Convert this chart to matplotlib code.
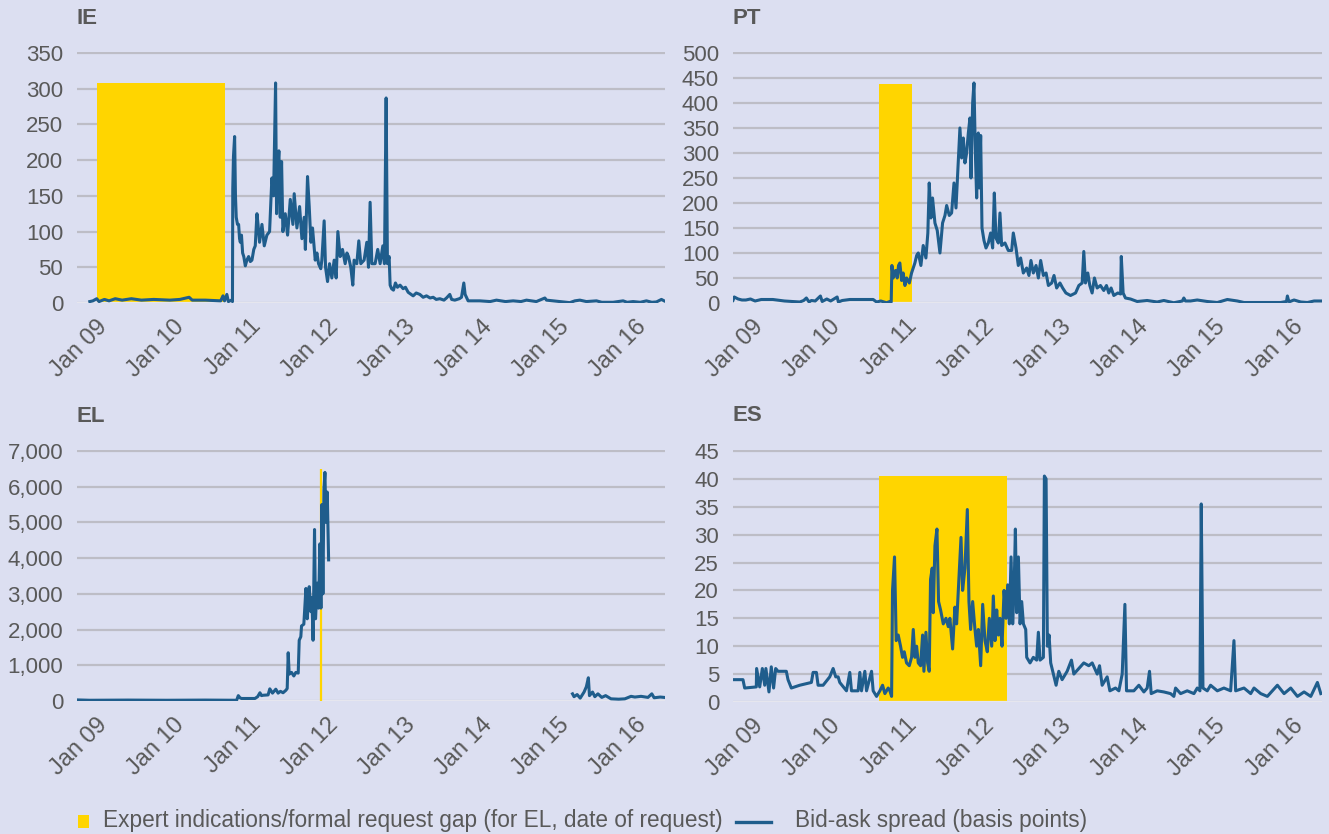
import matplotlib
matplotlib.use("Agg")
import matplotlib.pyplot as plt
import matplotlib.transforms as mtransforms
import numpy as np
from matplotlib.lines import Line2D
from matplotlib.patches import Rectangle

# ---- data (x in decimal years, values in basis points) ----
ie_x = [2009.0, 2009.04, 2009.09, 2009.12, 2009.19, 2009.25, 2009.33, 2009.42, 2009.54, 2009.67,
        2009.83, 2010.04, 2010.17, 2010.29, 2010.33, 2010.5, 2010.7, 2010.73, 2010.75, 2010.78,
        2010.8, 2010.84, 2010.853, 2010.857, 2010.866, 2010.881, 2010.892, 2010.902, 2010.918, 2010.933,
        2010.945, 2010.955, 2010.97, 2010.985, 2011.0, 2011.02, 2011.04, 2011.063, 2011.085, 2011.106,
        2011.13, 2011.149, 2011.171, 2011.185, 2011.205, 2011.236, 2011.266, 2011.3, 2011.335, 2011.365,
        2011.387, 2011.4, 2011.413, 2011.426, 2011.443, 2011.456, 2011.474, 2011.491, 2011.508, 2011.539,
        2011.569, 2011.604, 2011.638, 2011.655, 2011.69, 2011.725, 2011.755, 2011.785, 2011.8, 2011.828,
        2011.85, 2011.872, 2011.893, 2011.928, 2011.95, 2011.971, 2012.0, 2012.014, 2012.044, 2012.062,
        2012.088, 2012.114, 2012.144, 2012.174, 2012.2, 2012.222, 2012.252, 2012.282, 2012.317, 2012.34,
        2012.36, 2012.39, 2012.416, 2012.433, 2012.468, 2012.494, 2012.52, 2012.563, 2012.598, 2012.62,
        2012.641, 2012.663, 2012.706, 2012.74, 2012.771, 2012.806, 2012.827, 2012.849, 2012.866, 2012.888,
        2012.901, 2012.92, 2012.944, 2012.97, 2012.996, 2013.03, 2013.07, 2013.1, 2013.135, 2013.2,
        2013.24, 2013.287, 2013.33, 2013.373, 2013.42, 2013.46, 2013.5, 2013.547, 2013.6, 2013.633,
        2013.676, 2013.7, 2013.741, 2013.8, 2013.828, 2013.858, 2013.875, 2013.914, 2014.066, 2014.2,
        2014.282, 2014.4, 2014.499, 2014.6, 2014.672, 2014.8, 2014.911, 2014.932, 2015.235, 2015.3,
        2015.365, 2015.45, 2015.581, 2015.65, 2015.797, 2015.927, 2015.98, 2016.057, 2016.15, 2016.23,
        2016.3, 2016.36, 2016.425, 2016.46]
ie_y = [2, 3, 6, 2, 5, 3, 6, 4, 6, 4,
        5, 4, 5, 8, 4, 4, 3, 10, 3, 12,
        2, 4, 2, 160, 205, 233, 150, 120, 110, 110,
        90, 85, 95, 70, 65, 52, 60, 65, 58, 60,
        75, 80, 125, 110, 85, 110, 80, 95, 100, 175,
        150, 230, 308, 125, 190, 213, 120, 198, 100, 125,
        95, 145, 110, 153, 105, 135, 90, 120, 75, 177,
        135, 85, 105, 60, 70, 55, 48, 60, 115, 50,
        30, 55, 35, 60, 35, 100, 65, 75, 55, 70,
        65, 50, 25, 60, 55, 87, 55, 60, 85, 50,
        141, 55, 55, 75, 55, 80, 55, 287, 55, 65,
        25, 20, 18, 28, 22, 25, 20, 22, 15, 10,
        14, 12, 8, 10, 7, 8, 5, 6, 4, 7,
        12, 5, 4, 6, 8, 28, 12, 3, 3, 2,
        4, 2, 3, 2, 4, 2, 7, 4, 0.5, 3,
        4, 2, 3, 1, 1, 3, 1, 2, 1, 3,
        1, 1.5, 5, 3]

pt_x = [2008.833, 2008.85, 2008.9, 2008.95, 2009.0, 2009.06, 2009.12, 2009.2, 2009.35, 2009.5,
        2009.6, 2009.7, 2009.75, 2009.785, 2009.82, 2009.85, 2009.9, 2009.967, 2009.99, 2010.05,
        2010.1, 2010.184, 2010.2, 2010.25, 2010.348, 2010.651, 2010.695, 2010.75, 2010.824, 2010.868,
        2010.885, 2010.894, 2010.911, 2010.925, 2010.941, 2010.963, 2010.98, 2010.997, 2011.02, 2011.04,
        2011.063, 2011.085, 2011.12, 2011.149, 2011.17, 2011.192, 2011.215, 2011.236, 2011.27, 2011.3,
        2011.335, 2011.36, 2011.378, 2011.4, 2011.421, 2011.452, 2011.482, 2011.517, 2011.551, 2011.582,
        2011.604, 2011.638, 2011.668, 2011.699, 2011.725, 2011.755, 2011.776, 2011.798, 2011.82, 2011.841,
        2011.863, 2011.885, 2011.906, 2011.919, 2011.941, 2011.958, 2011.976, 2011.993, 2012.014, 2012.027,
        2012.045, 2012.062, 2012.088, 2012.114, 2012.144, 2012.174, 2012.2, 2012.222, 2012.243, 2012.274,
        2012.295, 2012.317, 2012.36, 2012.403, 2012.447, 2012.468, 2012.503, 2012.533, 2012.563, 2012.598,
        2012.641, 2012.671, 2012.697, 2012.728, 2012.763, 2012.793, 2012.823, 2012.858, 2012.893, 2012.923,
        2012.966, 2012.996, 2013.03, 2013.073, 2013.108, 2013.15, 2013.21, 2013.275, 2013.318, 2013.361,
        2013.382, 2013.404, 2013.434, 2013.46, 2013.49, 2013.52, 2013.555, 2013.598, 2013.641, 2013.676,
        2013.706, 2013.736, 2013.771, 2013.823, 2013.86, 2013.868, 2013.892, 2013.922, 2013.987, 2014.074,
        2014.203, 2014.333, 2014.42, 2014.549, 2014.66, 2014.679, 2014.7, 2014.766, 2014.853, 2014.983,
        2015.113, 2015.243, 2015.373, 2015.459, 2015.719, 2015.935, 2016.01, 2016.022, 2016.04, 2016.057,
        2016.108, 2016.195, 2016.281, 2016.368, 2016.454]
pt_y = [5, 12, 8, 6, 6, 8, 4, 7, 7, 4,
        3, 2, 5, 10, 2, 5, 4, 14, 3, 8,
        4, 12, 2, 5, 7, 7, 2, 4, 0.5, 3,
        2, 75, 50, 60, 65, 50, 75, 80, 45, 60,
        35, 50, 40, 60, 70, 80, 95, 100, 75, 115,
        90, 140, 240, 170, 210, 160, 145, 100, 160, 175,
        195, 175, 180, 240, 190, 285, 350, 290, 330, 280,
        300, 340, 370, 250, 400, 440, 300, 210, 340, 230,
        335, 150, 125, 110, 120, 140, 110, 220, 130, 120,
        180, 115, 120, 105, 105, 140, 110, 75, 90, 60,
        70, 55, 85, 60, 75, 50, 85, 55, 60, 35,
        40, 55, 30, 40, 30, 20, 15, 20, 35, 40,
        103, 40, 60, 35, 20, 50, 30, 35, 25, 35,
        20, 30, 15, 20, 18, 93, 20, 10, 8, 3,
        5, 2, 5, 0.5, 4, 10, 4, 4, 6, 3,
        1, 7, 4, 1, 1, 1, 3, 14, 3, 3,
        6, 2, 1, 4, 4]

el_x = [2008.833, 2009.0, 2009.5, 2010.0, 2010.5, 2010.907, 2010.929, 2010.95, 2010.97, 2011.145,
        2011.18, 2011.21, 2011.23, 2011.25, 2011.316, 2011.338, 2011.373, 2011.416, 2011.446, 2011.477,
        2011.51, 2011.547, 2011.564, 2011.577, 2011.59, 2011.62, 2011.65, 2011.676, 2011.707, 2011.72,
        2011.741, 2011.75, 2011.78, 2011.795, 2011.807, 2011.824, 2011.84, 2011.85, 2011.872, 2011.885,
        2011.9, 2011.919, 2011.932, 2011.954, 2011.971, 2011.989, 2012.002, 2012.015, 2012.028, 2012.041,
        2012.054, 2012.067, 2012.084, 2012.102, 2013.0,
        2015.27, 2015.29, 2015.33, 2015.37, 2015.42, 2015.45, 2015.476, 2015.49, 2015.53, 2015.56,
        2015.6, 2015.65, 2015.7, 2015.77, 2015.87, 2015.95, 2016.03, 2016.08, 2016.16, 2016.25,
        2016.3, 2016.33, 2016.41, 2016.46]
el_y = [30, 20, 25, 20, 25, 20, 150, 90, 70, 70,
        120, 230, 150, 160, 170, 340, 220, 330, 220, 270,
        230, 300, 350, 1350, 750, 800, 700, 800, 780, 1700,
        1800, 2100, 2150, 2700, 3150, 2300, 2800, 3200, 2500, 2900,
        1700, 4800, 2300, 3300, 2600, 4400, 2600, 5500, 3000, 5900,
        6400, 5000, 5850, 3950, np.nan,
        200, 120, 180, 80, 250, 400, 650, 150, 250, 120,
        200, 100, 150, 60, 50, 60, 130, 110, 130, 100,
        200, 90, 110, 100]

es_x = [2008.833, 2008.963, 2008.985, 2009.136, 2009.14, 2009.18, 2009.214, 2009.245, 2009.26, 2009.3,
        2009.33, 2009.36, 2009.387, 2009.417, 2009.525, 2009.547, 2009.59, 2009.699, 2009.85, 2009.872,
        2009.915, 2009.937, 2010.002, 2010.088, 2010.132, 2010.166, 2010.197, 2010.218, 2010.305, 2010.348,
        2010.37, 2010.456, 2010.478, 2010.5, 2010.543, 2010.565, 2010.63, 2010.651, 2010.695, 2010.738,
        2010.773, 2010.803, 2010.846, 2010.868, 2010.89, 2010.902, 2010.928, 2010.95, 2010.976, 2011.006,
        2011.032, 2011.054, 2011.084, 2011.119, 2011.149, 2011.171, 2011.193, 2011.214, 2011.236, 2011.266,
        2011.292, 2011.309, 2011.335, 2011.357, 2011.378, 2011.395, 2011.417, 2011.43, 2011.452, 2011.478,
        2011.499, 2011.525, 2011.56, 2011.595, 2011.625, 2011.646, 2011.681, 2011.711, 2011.733, 2011.755,
        2011.79, 2011.811, 2011.841, 2011.872, 2011.893, 2011.915, 2011.941, 2011.971, 2011.993, 2012.015,
        2012.045, 2012.071, 2012.101, 2012.131, 2012.157, 2012.188, 2012.209, 2012.231, 2012.253, 2012.274,
        2012.296, 2012.322, 2012.348, 2012.374, 2012.395, 2012.417, 2012.439, 2012.46, 2012.478, 2012.495,
        2012.512, 2012.534, 2012.556, 2012.577, 2012.599, 2012.629, 2012.642, 2012.685, 2012.728, 2012.771,
        2012.793, 2012.815, 2012.858, 2012.871, 2012.893, 2012.91, 2012.932, 2012.953, 2012.988, 2013.023,
        2013.058, 2013.101, 2013.166, 2013.222, 2013.253, 2013.318, 2013.382, 2013.447, 2013.491, 2013.556,
        2013.586, 2013.62, 2013.685, 2013.72, 2013.793, 2013.837, 2013.88, 2013.915, 2013.936, 2014.031,
        2014.096, 2014.161, 2014.204, 2014.234, 2014.256, 2014.334, 2014.42, 2014.507, 2014.55, 2014.572,
        2014.637, 2014.723, 2014.81, 2014.853, 2014.888, 2014.905, 2014.927, 2014.983, 2015.026, 2015.113,
        2015.199, 2015.286, 2015.329, 2015.351, 2015.459, 2015.546, 2015.589, 2015.676, 2015.762, 2015.892,
        2015.979, 2016.065, 2016.152, 2016.238, 2016.325, 2016.411, 2016.455]
es_y = [4, 4, 2.5, 2.7, 6, 2.7, 6, 3, 6, 1.8,
        6.3, 2.5, 6, 5.5, 5.5, 4, 2.5, 3, 3.5, 5.3,
        5.3, 3, 3, 4.5, 6, 4.5, 4.5, 3.5, 2, 5.3,
        2, 2, 5.3, 2, 5.5, 2, 5.5, 2, 1, 2,
        3, 1.5, 2.5, 2, 1, 20, 26, 11, 12, 10,
        8, 9, 7, 6.5, 8, 13, 8, 10, 7, 6.5,
        12, 5.5, 12.5, 7, 5.5, 22, 24, 16, 28, 31,
        18, 16.5, 14, 15, 13.5, 15, 9.5, 17, 14, 20,
        29.5, 20, 24, 34.5, 18, 13, 18, 13, 10, 13,
        6.5, 17.5, 11, 9, 15, 10, 19, 11, 16.5, 12,
        15, 10, 20, 15, 21, 14, 26, 14, 20, 31,
        16, 26, 14, 18, 14, 13, 8, 7, 8, 7.5,
        12.5, 7.5, 8, 40.5, 40, 10, 12, 7, 5, 3,
        5.5, 4, 5.5, 7.5, 5, 6, 7, 6.5, 7, 5,
        6.5, 3, 4.5, 2, 2.5, 2, 5, 17.5, 2, 2,
        3, 1.8, 2.5, 5.5, 1.5, 2, 1.8, 1.5, 1, 2.5,
        1.5, 2, 1.5, 2.5, 2, 35.5, 2.5, 2, 3, 2,
        2.5, 2, 11, 2, 2.5, 1.5, 2.5, 1.5, 1, 3,
        1.5, 2.5, 1, 1.8, 1, 3.5, 1.5]

# expert indications / formal request gaps: (start, end, height); EL is a single date
ie_gap = (2009.093, 2010.751, 308)
pt_gap = (2010.729, 2011.149, 438)
es_gap = (2010.729, 2012.391, 40.5)
el_request = (2012.0, 6500)

year_ticks = [2009, 2010, 2011, 2012, 2013, 2014, 2015, 2016]
year_labels = ["Jan 09", "Jan 10", "Jan 11", "Jan 12", "Jan 13", "Jan 14", "Jan 15", "Jan 16"]

# ---- style ----
BG = "#dcdff1"
YELLOW = "#ffd500"
BLUE = "#1f5d8c"
GRID = "#bdbdc6"
TEXT = "#595959"

plt.rcParams["font.family"] = ["Liberation Sans", "DejaVu Sans"]
plt.rcParams["font.size"] = 16

fig = plt.figure(figsize=(13.29, 8.34), dpi=100, facecolor=BG)
shift = mtransforms.ScaledTranslation(6 / 100, 0, fig.dpi_scale_trans)


def setup(ax, title, ymax, step, fmt="{:,.0f}"):
    ax.set_facecolor(BG)
    for s in ax.spines.values():
        s.set_visible(False)
    ax.set_xlim(2008.833, 2016.47)
    ax.set_ylim(0, ymax * 1.004)
    yt = np.arange(0, ymax + step / 2, step)
    ax.set_yticks(yt)
    ax.set_yticklabels([fmt.format(v) for v in yt])
    ax.set_xticks(year_ticks)
    ax.set_xticklabels(year_labels, rotation=45, ha="right", rotation_mode="anchor")
    ax.tick_params(axis="both", length=0, colors=TEXT)
    ax.tick_params(axis="y", labelsize=16, pad=10)
    ax.tick_params(axis="x", labelsize=17, pad=9)
    for lab in ax.get_xticklabels():
        lab.set_transform(lab.get_transform() + shift)
    ax.set_axisbelow(True)
    ax.yaxis.grid(True, color=GRID, linewidth=1.6)
    ax.axhline(0, color="#e6e6ee", linewidth=1.6, zorder=1.5)
    ax.text(0.0, 1.135, title, transform=ax.transAxes, fontsize=16, fontweight="bold",
            color=TEXT, ha="left", va="center")


axes_pos = {
    "IE": [0.0579, 0.6367, 0.4424, 0.3010],
    "PT": [0.5515, 0.6367, 0.4432, 0.3010],
    "EL": [0.0579, 0.1595, 0.4424, 0.3010],
    "ES": [0.5515, 0.1583, 0.4432, 0.3022],
}
LW = 2.2

ax = fig.add_axes(axes_pos["IE"])
setup(ax, "IE", 350, 50)
ax.fill_between(ie_gap[:2], 0, ie_gap[2], color=YELLOW, lw=0, zorder=1)
ax.plot(ie_x, ie_y, color=BLUE, lw=LW, zorder=3)

ax = fig.add_axes(axes_pos["PT"])
setup(ax, "PT", 500, 50)
ax.fill_between(pt_gap[:2], 0, pt_gap[2], color=YELLOW, lw=0, zorder=1)
ax.plot(pt_x, pt_y, color=BLUE, lw=LW, zorder=3)

ax = fig.add_axes(axes_pos["EL"])
setup(ax, "EL", 7000, 1000)
ax.vlines(el_request[0], 0, el_request[1], color=YELLOW, lw=1.6, zorder=2)
ax.plot(el_x, el_y, color=BLUE, lw=LW, zorder=3)

ax = fig.add_axes(axes_pos["ES"])
setup(ax, "ES", 45, 5)
ax.fill_between(es_gap[:2], 0, es_gap[2], color=YELLOW, lw=0, zorder=1)
ax.plot(es_x, es_y, color=BLUE, lw=LW, zorder=3)

# legend along the bottom
W, H = 1329, 834
fig.add_artist(Rectangle((78 / W, 1 - 828 / H), 11 / W, 13 / H, transform=fig.transFigure,
                         color=YELLOW, lw=0))
fig.text(103 / W, 1 - 821 / H, "Expert indications/formal request gap (for EL, date of request)",
         color=TEXT, fontsize=16.3, va="center", ha="left")
fig.add_artist(Line2D([736 / W, 771 / W], [1 - 822 / H, 1 - 822 / H], transform=fig.transFigure,
                      color=BLUE, lw=2.4))
fig.text(795 / W, 1 - 821 / H, "Bid-ask spread (basis points)",
         color=TEXT, fontsize=16.3, va="center", ha="left")

fig.savefig("out.png", dpi=100, facecolor=BG)
